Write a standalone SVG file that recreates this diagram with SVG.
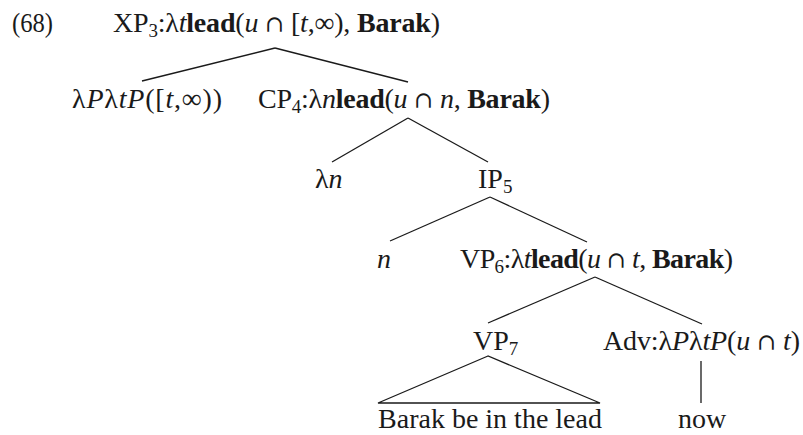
<svg xmlns="http://www.w3.org/2000/svg" width="803" height="435" viewBox="0 0 803 435">
<style>
text{font-family:"Liberation Serif","DejaVu Serif",serif;font-size:28px;fill:#1a1a1a}
.i{font-style:italic}
.b{font-weight:bold}
.s{font-size:19px}
.c{font-family:"DejaVu Serif","Liberation Serif",serif;font-size:23px}
line,polygon{stroke:#1a1a1a;stroke-width:1.3;fill:none}
</style>
<rect width="803" height="435" fill="#fff"/>
<g id="connectors">
<line x1="275" y1="48" x2="142" y2="81"/>
<line x1="275" y1="48" x2="408" y2="82"/>
<line x1="408" y1="118" x2="332" y2="162"/>
<line x1="408" y1="118" x2="488" y2="162"/>
<line x1="490" y1="197" x2="390" y2="241"/>
<line x1="490" y1="197" x2="587" y2="242"/>
<line x1="595" y1="277" x2="488" y2="323"/>
<line x1="595" y1="277" x2="702" y2="324"/>
<polygon points="488,356 378,403 600,403"/>
<line x1="701" y1="361" x2="701" y2="403"/>
</g>
<g id="label68"><text x="12" y="32" textLength="41" lengthAdjust="spacingAndGlyphs">(68)</text></g>
<g id="XP3"><text x="113" y="32" textLength="327" lengthAdjust="spacing">XP<tspan class="s" dy="5">3</tspan><tspan dy="-5">:λ</tspan><tspan class="i">t</tspan><tspan class="b">lead</tspan>(<tspan class="i">u</tspan> <tspan class="c">∩</tspan> [<tspan class="i">t</tspan>,∞), <tspan class="b">Barak</tspan>)</text></g>
<g id="lamP"><text x="72" y="108" textLength="150" lengthAdjust="spacing">λ<tspan class="i">P</tspan>λ<tspan class="i">tP</tspan>([<tspan class="i">t</tspan>,∞))</text></g>
<g id="CP4"><text x="258" y="108" textLength="292" lengthAdjust="spacing">CP<tspan class="s" dy="5">4</tspan><tspan dy="-5">:λ</tspan><tspan class="i">n</tspan><tspan class="b">lead</tspan>(<tspan class="i">u</tspan> <tspan class="c">∩</tspan> <tspan class="i">n</tspan>, <tspan class="b">Barak</tspan>)</text></g>
<g id="lamn"><text x="315" y="188">λ<tspan class="i">n</tspan></text></g>
<g id="IP5"><text x="478" y="188">IP<tspan class="s" dy="5">5</tspan></text></g>
<g id="n"><text x="377" y="268" class="i">n</text></g>
<g id="VP6"><text x="460" y="268" textLength="273" lengthAdjust="spacing">VP<tspan class="s" dy="5">6</tspan><tspan dy="-5">:λ</tspan><tspan class="i">t</tspan><tspan class="b">lead</tspan>(<tspan class="i">u</tspan> <tspan class="c">∩</tspan> <tspan class="i">t</tspan>, <tspan class="b">Barak</tspan>)</text></g>
<g id="VP7"><text x="473" y="350">VP<tspan class="s" dy="5">7</tspan></text></g>
<g id="Adv"><text x="603" y="350" textLength="197" lengthAdjust="spacing">Adv:λ<tspan class="i">P</tspan>λ<tspan class="i">tP</tspan>(<tspan class="i">u</tspan> <tspan class="c">∩</tspan> <tspan class="i">t</tspan>)</text></g>
<g id="leaf1"><text x="378" y="428" textLength="224" lengthAdjust="spacing">Barak be in the lead</text></g>
<g id="now"><text x="678" y="428">now</text></g>
</svg>
